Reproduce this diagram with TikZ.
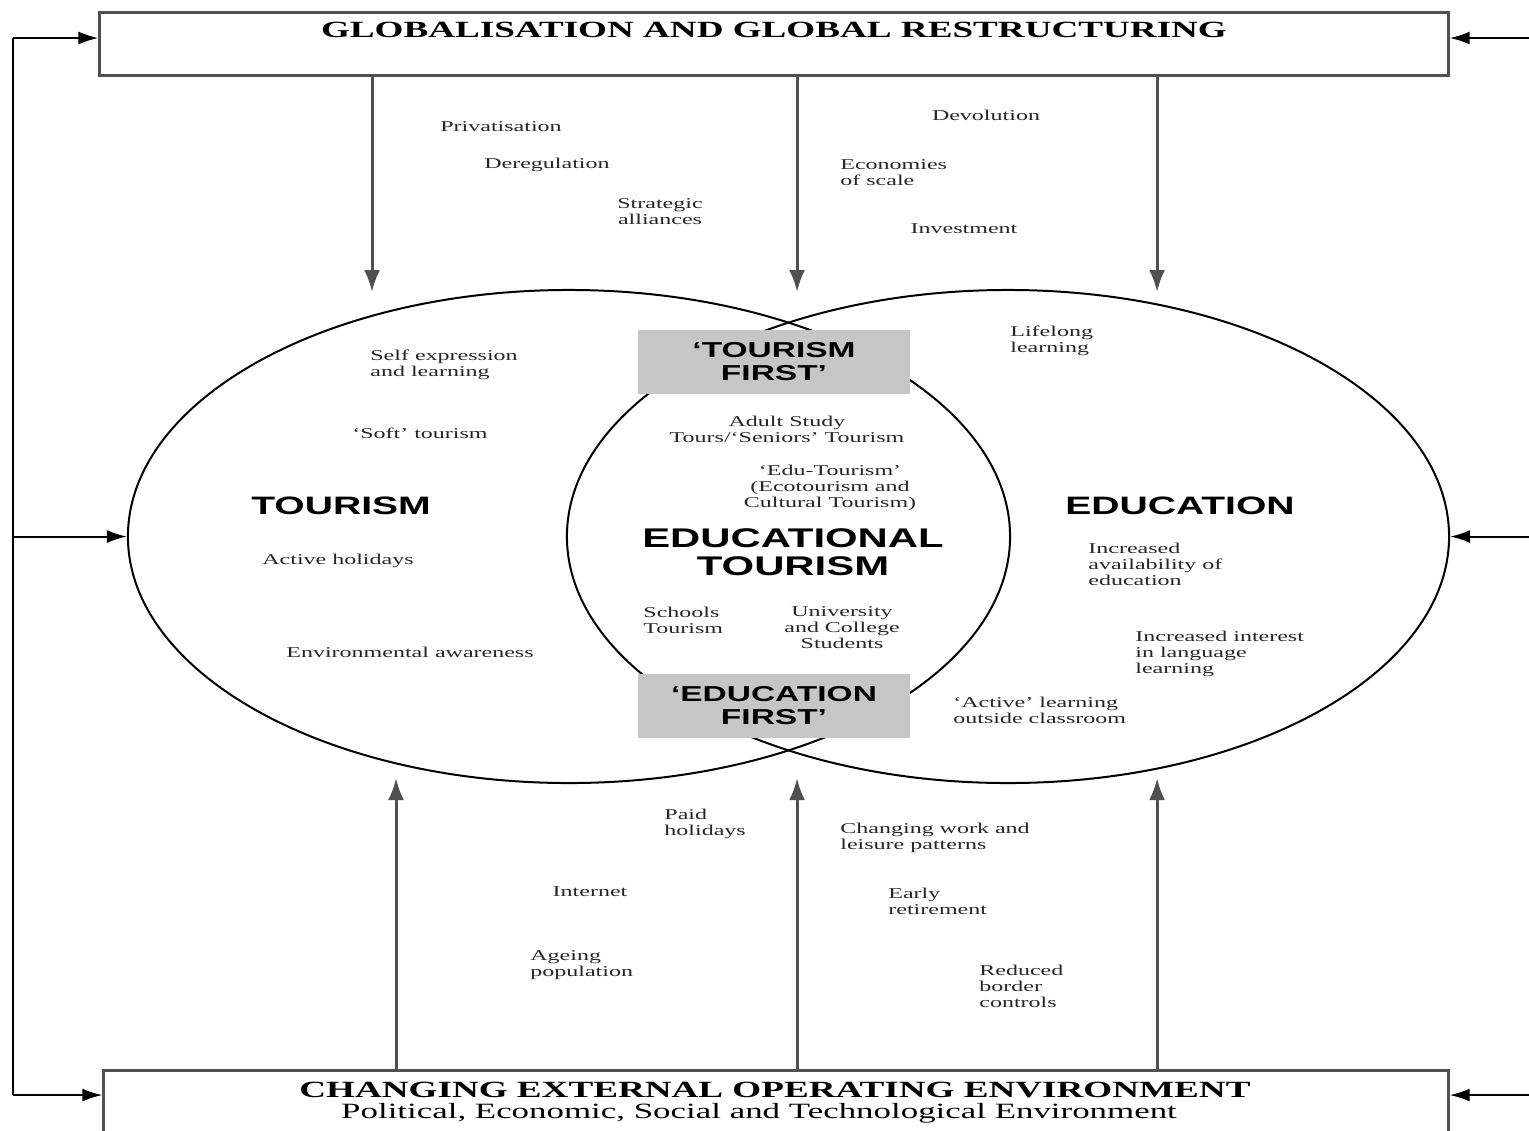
\documentclass[tikz,border=0pt]{standalone}
\usepackage{fontspec}
\setmainfont{Liberation Serif}
\newfontfamily\wideserif[FakeStretch=1.6]{Liberation Serif}
\newfontfamily\widesans[FakeStretch=1.55]{Liberation Sans}
\usetikzlibrary{shapes.geometric,arrows.meta}
\definecolor{boxgray}{RGB}{198,198,198}
\definecolor{linegray}{RGB}{80,80,80}

\begin{document}
\begin{tikzpicture}[scale=0.1757]
\tikzstyle{every node}+=[inner sep=0pt]
\tikzstyle{lbl}=[font=\wideserif\fontsize{7.5}{8}\selectfont, text=black!85, align=left]
\tikzstyle{clbl}=[lbl, align=center]
\tikzstyle{big}=[font=\widesans\bfseries\fontsize{12.6}{14}\selectfont]
\tikzstyle{bigc}=[font=\widesans\bfseries\fontsize{13.5}{14}\selectfont, align=center]
\tikzstyle{firstbox}=[fill=boxgray, minimum width=136pt, minimum height=32pt, align=center, font=\widesans\bfseries\fontsize{10.8}{11.5}\selectfont]
\tikzstyle{framebox}=[draw=linegray, line width=1.5pt]
\tikzstyle{title}=[font=\wideserif\bfseries\fontsize{11.6}{13}\selectfont]
\tikzstyle{flow}=[draw=linegray, line width=1.5pt, -{Latex[length=11pt,width=8pt]}]
\tikzstyle{fb}=[black, line width=1pt]
\tikzstyle{fbarr}=[fb, -{Latex[length=10pt,width=6.5pt]}]
\useasboundingbox (0,0) rectangle (152.9,-113.1);

\node[framebox, minimum width=674pt, minimum height=31.5pt] (globe) at (77.4,-4.35) {};
\node[title] (globetitle) at (77.4,-3.0) {GLOBALISATION AND GLOBAL RESTRUCTURING};
\node[framebox, minimum width=672pt, minimum height=40pt] (envbox) at (77.6,-111) {};
\node[title] (envtitle) at (77.5,-109.0) {CHANGING EXTERNAL OPERATING ENVIRONMENT};
\node[font=\wideserif\fontsize{10.9}{12}\selectfont] (envsub) at (75.9,-111.3) {Political, Economic, Social and Technological Environment};

\node[draw, ellipse, line width=1pt, minimum width=441pt, minimum height=246.5pt] (tour) at (56.9,-53.65) {};
\node[draw, ellipse, line width=1pt, minimum width=441pt, minimum height=246.5pt] (edu) at (100.8,-53.65) {};

\node[firstbox] (tfirst) at (77.4,-36.15) {‘TOURISM\\FIRST’};
\node[firstbox] (efirst) at (77.4,-70.55) {‘EDUCATION\\FIRST’};

\coordinate (g1) at (37.2,-29.2);
\coordinate (g2) at (79.7,-29.2);
\coordinate (g3) at (115.7,-29.2);
\draw[flow] (g1 |- globe.south) -- (g1);
\draw[flow] (g2 |- globe.south) -- (g2);
\draw[flow] (g3 |- globe.south) -- (g3);
\coordinate (c1) at (39.6,-77.8);
\coordinate (c2) at (79.7,-77.8);
\coordinate (c3) at (115.7,-77.8);
\draw[flow] (c1 |- envbox.north) -- (c1);
\draw[flow] (c2 |- envbox.north) -- (c2);
\draw[flow] (c3 |- envbox.north) -- (c3);

\coordinate (ltop) at (1.3,-3.8);
\coordinate (lbot) at (1.3,-109.5);
\draw[fb] (ltop) -- (lbot);
\draw[fbarr] (ltop) -- (ltop -| globe.west);
\draw[fbarr] (lbot) -- (lbot -| envbox.west);
\draw[fbarr] (ltop |- tour.west) -- (tour.west);
\coordinate (rtop) at (152.9,-3.8);
\coordinate (rbot) at (152.9,-109.5);
\draw[fbarr] (rtop) -- (rtop -| globe.east);
\draw[fbarr] (rbot) -- (rbot -| envbox.east);
\draw[fbarr] (rtop |- edu.east) -- (edu.east);

\node[lbl] (priv) at (50.1,-12.7) {Privatisation};
\node[lbl] (dereg) at (54.7,-16.5) {Deregulation};
\node[clbl] (strat) at (66.0,-21.2) {Strategic\\alliances};
\node[lbl] (devol) at (98.6,-11.5) {Devolution};
\node[lbl, anchor=west] (econ) at (84.0,-17.3) {Economies\\of scale};
\node[lbl] (invest) at (96.4,-22.9) {Investment};

\node[lbl, anchor=west] (selfexp) at (37.0,-36.5) {Self expression\\and learning};
\node[lbl] (soft) at (42.0,-43.3) {‘Soft’ tourism};
\node[big] (tourism) at (34.1,-50.6) {TOURISM};
\node[lbl] (active) at (33.8,-56.1) {Active holidays};
\node[lbl] (envaware) at (41.0,-65.2) {Environmental awareness};

\node[clbl] (adult) at (78.7,-42.9) {Adult Study\\Tours/‘Seniors’ Tourism};
\node[clbl] (edut) at (83.0,-48.8) {‘Edu-Tourism’\\(Ecotourism and\\Cultural Tourism)};
\node[bigc] (edtour) at (79.3,-55.2) {EDUCATIONAL\\TOURISM};
\node[lbl, anchor=west] (schools) at (64.3,-62.0) {Schools\\Tourism};
\node[clbl] (univ) at (84.2,-62.8) {University\\and College\\Students};

\node[lbl, anchor=west] (lifelong) at (101.0,-34.1) {Lifelong\\learning};
\node[big] (education) at (118.0,-50.6) {EDUCATION};
\node[lbl, anchor=west] (avail) at (108.8,-56.4) {Increased\\availability of\\education};
\node[lbl, anchor=west] (lang) at (113.5,-65.4) {Increased interest\\in language\\learning};
\node[lbl, anchor=west] (activel) at (95.3,-71.0) {‘Active’ learning\\outside classroom};

\node[lbl, anchor=west] (paid) at (66.4,-82.4) {Paid\\holidays};
\node[lbl, anchor=west] (changing) at (84.0,-83.8) {Changing work and\\leisure patterns};
\node[lbl] (internet) at (59.0,-89.2) {Internet};
\node[lbl, anchor=west] (early) at (88.8,-90.1) {Early\\retirement};
\node[lbl, anchor=west] (ageing) at (53.0,-96.5) {Ageing\\population};
\node[lbl, anchor=west] (reduced) at (97.9,-98.6) {Reduced\\border\\controls};
\end{tikzpicture}
\end{document}
